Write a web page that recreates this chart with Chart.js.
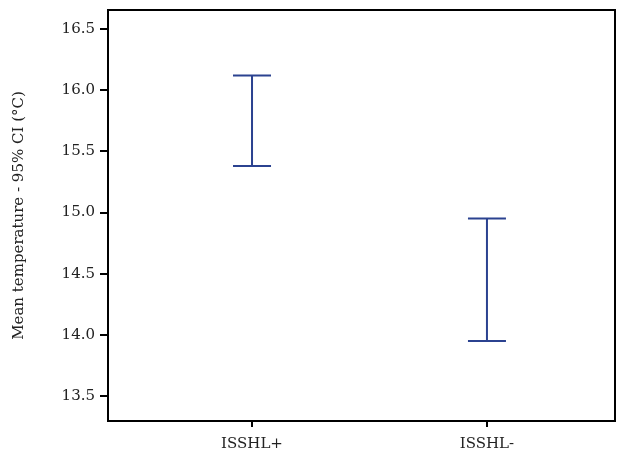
<!DOCTYPE html>
<html>
<head>
<meta charset="utf-8">
<script src="https://cdn.jsdelivr.net/npm/chart.js@4.4.0/dist/chart.umd.min.js"></script>
<style>
  html, body { margin: 0; padding: 0; background: #fff; }
  #wrap { width: 634px; height: 455px; }
</style>
</head>
<body>
<div id="wrap"><canvas id="chart"></canvas></div>
<script>
// Mean temperature with 95% CI, per group
const groups = ['ISSHL+', 'ISSHL-'];
const groupPos = [1, 2];
const ciLower = [15.38, 13.95];
const ciUpper = [16.12, 14.95];
const yTicks = [13.5, 14.0, 14.5, 15.0, 15.5, 16.0, 16.5];

const barColor = '#2b4290';
const fontFamily = '"DejaVu Serif", "Liberation Serif", serif';

// draws the CI whiskers and the frame round the plot
const errorBarPlugin = {
    id: 'errorBars',
    afterDatasetsDraw(chart) {
        const ctx = chart.ctx;
        const x = chart.scales.x;
        const y = chart.scales.y;
        const area = chart.chartArea;
        ctx.save();
        ctx.strokeStyle = barColor;
        ctx.lineWidth = 2;
        for (let i = 0; i < groups.length; i++) {
            const px = x.getPixelForValue(groupPos[i]);
            const top = y.getPixelForValue(ciUpper[i]);
            const bot = y.getPixelForValue(ciLower[i]);
            const cap = 19;
            ctx.beginPath();
            ctx.moveTo(px, top);
            ctx.lineTo(px, bot);
            ctx.moveTo(px - cap, top);
            ctx.lineTo(px + cap, top);
            ctx.moveTo(px - cap, bot);
            ctx.lineTo(px + cap, bot);
            ctx.stroke();
        }
        ctx.strokeStyle = '#000';
        ctx.lineWidth = 2;
        ctx.strokeRect(area.left, area.top, area.right - area.left, area.bottom - area.top);
        ctx.restore();
    }
};

new Chart(document.getElementById('chart'), {
    type: 'scatter',
    data: {
        datasets: [{
            data: groupPos.map((p, i) => ({ x: p, y: (ciLower[i] + ciUpper[i]) / 2 })),
            pointRadius: 0,
            showLine: false
        }]
    },
    options: {
        responsive: true,
        maintainAspectRatio: false,
        animation: false,
        layout: { padding: { top: 10, right: 19, bottom: 0, left: 0 } },
        plugins: {
            legend: { display: false },
            tooltip: { enabled: false }
        },
        scales: {
            x: {
                type: 'linear',
                min: 0.387,
                max: 2.545,
                afterBuildTicks: (scale) => { scale.ticks = groupPos.map(v => ({ value: v })); },
                afterFit: (scale) => {
                    scale.height = 34;
                    scale.paddingLeft = 0;
                    scale.paddingRight = 0;
                },
                grid: {
                    drawOnChartArea: false,
                    drawTicks: true,
                    tickLength: 6,
                    color: '#000',
                    lineWidth: 2
                },
                border: { display: false },
                ticks: {
                    color: '#222',
                    font: { family: fontFamily, size: 15 },
                    padding: 8,
                    maxRotation: 0,
                    callback: (v) => groups[groupPos.indexOf(v)]
                }
            },
            y: {
                min: 13.296,
                max: 16.655,
                afterBuildTicks: (scale) => { scale.ticks = yTicks.map(v => ({ value: v })); },
                afterFit: (scale) => {
                    scale.width = 108;
                    scale.paddingTop = 0;
                    scale.paddingBottom = 0;
                },
                grid: {
                    drawOnChartArea: false,
                    drawTicks: true,
                    tickLength: 8,
                    color: '#000',
                    lineWidth: 2
                },
                border: { display: false },
                ticks: {
                    color: '#222',
                    font: { family: fontFamily, size: 15 },
                    padding: 5,
                    callback: (v) => v.toFixed(1)
                },
                title: {
                    display: true,
                    text: 'Mean temperature - 95% CI (°C)',
                    color: '#222',
                    font: { family: fontFamily, size: 15 },
                    padding: { top: 10, bottom: 12 }
                }
            }
        }
    },
    plugins: [errorBarPlugin]
});
</script>
</body>
</html>
